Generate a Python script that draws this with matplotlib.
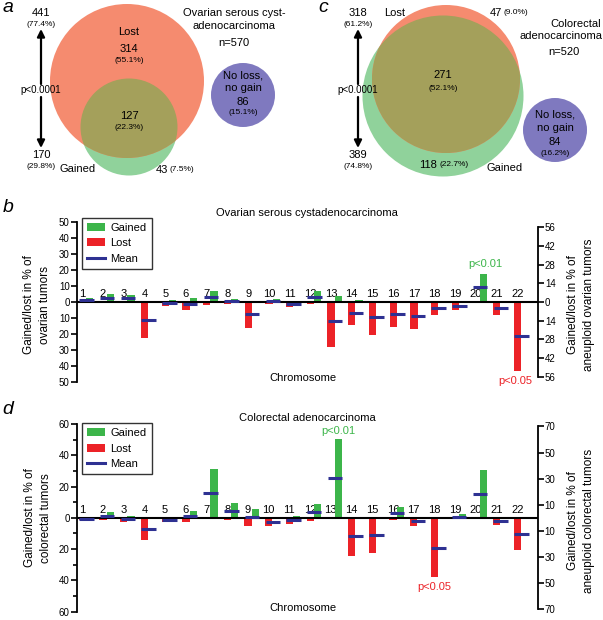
import numpy as np
import matplotlib
matplotlib.use("Agg")
from matplotlib import pyplot as plt
from matplotlib.patches import Circle, Patch
from matplotlib.lines import Line2D

plt.rcParams["font.family"] = ["Liberation Sans", "DejaVu Sans"]

# ---- data ----
chromosomes = np.arange(1, 23)

# ovarian serous cystadenocarcinoma, % of tumors
ov_gained = [2.3, 4.9, 4.2, 0.2, 1.1, 2.5, 7.0, 2.1, 0.3, 2.1, 0.4, 7.0,
             3.8, 1.1, 0.4, 0.6, 0.4, 0.6, 0.2, 17.6, 0.2, 0.4]
ov_lost = [0.3, 0.5, 0.5, 22.7, 2.3, 5.3, 1.7, 1.1, 16.3, 1.5, 3.4, 1.1,
           28.2, 14.2, 20.6, 15.9, 16.9, 8.1, 5.1, 0.2, 8.3, 43.2]
ov_mean = [1.3, 2.5, 2.3, -11.0, -0.6, -1.5, 3.0, 0.8, -7.6, 0.8, -1.5, 3.2,
           -12.1, -6.6, -9.7, -7.4, -8.5, -3.6, -2.5, 9.1, -4.0, -21.2]

# colorectal adenocarcinoma, % of tumors
co_gained = [0.2, 3.8, 1.5, 0.2, 0.2, 4.2, 31.5, 9.5, 5.7, 0.2, 1.5, 8.9,
             50.1, 0.8, 0.2, 7.2, 0.2, 0.2, 2.3, 30.4, 0.2, 0.2]
co_lost = [1.3, 1.5, 2.5, 13.9, 2.7, 2.5, 0.3, 1.1, 5.3, 4.9, 3.8, 1.7,
           0.4, 24.5, 22.2, 1.3, 4.9, 37.6, 0.8, 0.3, 4.6, 20.5]
co_mean = [-0.6, 1.5, -0.6, -7.0, -1.5, 1.3, 15.8, 4.6, 0.6, -2.5, -1.1, 4.0,
           25.4, -11.8, -10.8, 3.4, -2.3, -19.0, 0.8, 15.4, -2.3, -10.1]

# venn counts
ov_n = 570
ov_lost_total, ov_gained_total = 441, 170
ov_lost_only, ov_both, ov_gained_only, ov_none = 314, 127, 43, 86
co_n = 520
co_lost_total, co_gained_total = 318, 389
co_lost_only, co_both, co_gained_only, co_none = 47, 271, 118, 84

# ---- style ----
W, H = 603, 620
GREEN = "#3cb54a"
RED = "#ec2227"
BLUE = "#2e3192"
V_LOST = "#f58b6f"
V_GAIN = "#90d29b"
V_BOTH = "#a4a05b"
V_NONE = "#7f79bf"

fig = plt.figure(figsize=(W / 100, H / 100), dpi=100)


def ftext(x, y, s, **kw):
    kw.setdefault("ha", "center")
    kw.setdefault("va", "center")
    fig.text(x / W, 1 - y / H, s, **kw)


def pct(a, n):
    return f"({100 * a / n:.1f}%)"


# ---- venn panels (pixel coordinates) ----
vax = fig.add_axes([0, 1 - 190 / H, 1, 190 / H])
vax.set_xlim(0, W)
vax.set_ylim(190, 0)
vax.axis("off")


def venn(lost_c, lost_r, gain_c, gain_r, none_c, none_r):
    g = Circle(gain_c, gain_r, fc=V_GAIN, ec="none")
    l = Circle(lost_c, lost_r, fc=V_LOST, ec="none")
    vax.add_patch(g)
    vax.add_patch(l)
    both = Circle(gain_c, gain_r, fc=V_BOTH, ec="none")
    vax.add_patch(both)
    both.set_clip_path(l)
    vax.add_patch(Circle(none_c, none_r, fc=V_NONE, ec="none"))


def p_arrow(x, top_txt, top_pct, bot_txt, bot_pct):
    vax.text(x, 13, top_txt, ha="center", va="center", fontsize=8)
    vax.text(x, 25, top_pct, ha="center", va="center", fontsize=6)
    vax.text(x, 155, bot_txt, ha="center", va="center", fontsize=8)
    vax.text(x, 167, bot_pct, ha="center", va="center", fontsize=6)
    vax.text(x, 90, "p<0.0001", ha="center", va="center", fontsize=7)
    ap = dict(arrowstyle="-|>", lw=1.6, color="black", mutation_scale=11,
              shrinkA=0, shrinkB=0)
    vax.annotate("", xy=(x, 29), xytext=(x, 84), arrowprops=ap)
    vax.annotate("", xy=(x, 148), xytext=(x, 97), arrowprops=ap)


# panel a
venn((127, 81), 77, (129, 127), 48.5, (243, 95), 32)
p_arrow(41, str(ov_lost_total), pct(ov_lost_total, ov_n),
        str(ov_gained_total), pct(ov_gained_total, ov_n))
vax.text(8, 8, "a", ha="center", va="center", fontsize=14, style="italic")
vax.text(129, 32, "Lost", ha="center", va="center", fontsize=8)
vax.text(129, 49, str(ov_lost_only), ha="center", va="center", fontsize=8)
vax.text(129, 61, pct(ov_lost_only, ov_n), ha="center", va="center", fontsize=6)
vax.text(129, 116, str(ov_both), ha="center", va="center", fontsize=8)
vax.text(129, 128, pct(ov_both, ov_n), ha="center", va="center", fontsize=6)
vax.text(78, 169, "Gained", ha="center", va="center", fontsize=8)
vax.text(168, 170, str(ov_gained_only), ha="right", va="center", fontsize=8)
vax.text(170, 170, pct(ov_gained_only, ov_n), ha="left", va="center", fontsize=6)
vax.text(234, 13, "Ovarian serous cyst-", ha="center", va="center", fontsize=8)
vax.text(234, 26, "adenocarcinoma", ha="center", va="center", fontsize=8)
vax.text(234, 43, f"n={ov_n}", ha="center", va="center", fontsize=8)
vax.text(243, 76, "No loss,", ha="center", va="center", fontsize=8)
vax.text(243, 88, "no gain", ha="center", va="center", fontsize=8)
vax.text(243, 102, str(ov_none), ha="center", va="center", fontsize=8)
vax.text(243, 113, pct(ov_none, ov_n), ha="center", va="center", fontsize=6)

# panel c
venn((446, 79), 74, (443, 96), 80.5, (555, 130), 32)
p_arrow(358, str(co_lost_total), pct(co_lost_total, co_n),
        str(co_gained_total), pct(co_gained_total, co_n))
vax.text(323, 8, "c", ha="center", va="center", fontsize=14, style="italic")
vax.text(395, 13, "Lost", ha="center", va="center", fontsize=8)
vax.text(502, 13, str(co_lost_only), ha="right", va="center", fontsize=8)
vax.text(504, 13, pct(co_lost_only, co_n), ha="left", va="center", fontsize=6)
vax.text(443, 75, str(co_both), ha="center", va="center", fontsize=8)
vax.text(443, 88, pct(co_both, co_n), ha="center", va="center", fontsize=6)
vax.text(437, 165, str(co_gained_only), ha="right", va="center", fontsize=8)
vax.text(439, 165, pct(co_gained_only, co_n), ha="left", va="center", fontsize=6)
vax.text(505, 168, "Gained", ha="center", va="center", fontsize=8)
vax.text(576, 24, "Colorectal", ha="center", va="center", fontsize=8)
vax.text(561, 36, "adenocarcinoma", ha="center", va="center", fontsize=8)
vax.text(564, 52, f"n={co_n}", ha="center", va="center", fontsize=8)
vax.text(555, 115, "No loss,", ha="center", va="center", fontsize=8)
vax.text(555, 128, "no gain", ha="center", va="center", fontsize=8)
vax.text(555, 142, str(co_none), ha="center", va="center", fontsize=8)
vax.text(555, 154, pct(co_none, co_n), ha="center", va="center", fontsize=6)


# ---- bar panels ----
def bar_panel(rect, gained, lost, mean, llim, lmajor, lminor, rlim, rticks,
              leg_top):
    ax = fig.add_axes(rect)
    x = chromosomes
    ax.bar(x - 0.175, -np.asarray(lost), width=0.35, color=RED, zorder=2)
    ax.bar(x + 0.175, gained, width=0.35, color=GREEN, zorder=2)
    ax.axhline(0, color="black", lw=1.5, zorder=3)
    ax.hlines(mean, x - 0.33, x + 0.37, color=BLUE, lw=2.2, zorder=4)
    # chromosome numbers sit ~8 px above the zero line
    label_y = 8 / (rect[3] * H) * 2 * llim
    for c in x:
        ax.text(c - 0.18, label_y, str(c), ha="center", va="center",
                fontsize=8, zorder=1)
    ax.set_xlim(0.55, 22.81)
    ax.set_ylim(-llim, llim)
    ax.set_xticks([])
    ax.set_yticks(lmajor)
    ax.set_yticklabels([str(abs(v)) for v in lmajor])
    if lminor is not None:
        ax.set_yticks(lminor, minor=True)
    for s in ["top", "right", "bottom"]:
        ax.spines[s].set_visible(False)
    ax.spines["left"].set_linewidth(1.3)
    ax.tick_params(axis="y", which="both", direction="out", length=4,
                   width=1.2, labelsize=7, pad=1)
    ax.tick_params(axis="y", which="minor", length=3)

    ax2 = ax.twinx()
    ax2.set_ylim(-rlim, rlim)
    ax2.set_yticks(rticks)
    ax2.set_yticklabels([str(abs(v)) for v in rticks])
    for s in ["top", "left", "bottom"]:
        ax2.spines[s].set_visible(False)
    ax2.spines["right"].set_bounds(min(rticks), max(rticks))
    ax2.spines["right"].set_linewidth(1.3)
    ax2.tick_params(axis="y", direction="out", length=4, width=1.2,
                    labelsize=7, pad=1)

    handles = [Patch(fc=GREEN, ec="none", label="Gained"),
               Patch(fc=RED, ec="none", label="Lost"),
               Line2D([], [], color=BLUE, lw=2.2, label="Mean")]
    leg = ax.legend(handles=handles, loc="upper left",
                    bbox_to_anchor=(0.012, leg_top), fontsize=8,
                    frameon=True, fancybox=False, handlelength=1.6,
                    handleheight=0.7, handletextpad=0.5, labelspacing=0.5,
                    borderpad=0.45, borderaxespad=0)
    leg.get_frame().set_edgecolor("black")
    leg.get_frame().set_linewidth(1.0)
    leg.set_zorder(5)
    return ax


def rect_px(x0, y0, x1, y1):
    return [x0 / W, 1 - y1 / H, (x1 - x0) / W, (y1 - y0) / H]


ax_b = bar_panel(rect_px(76.7, 222.3, 538, 381.7), ov_gained, ov_lost, ov_mean,
                 50, list(range(-50, 51, 10)), None, 59.7,
                 list(range(-56, 57, 14)), 1.029)
ax_b.text(20.25, 24, "p<0.01", color=GREEN, ha="center", va="center",
          fontsize=8)
ax_b.text(21.7, -49.5, "p<0.05", color=RED, ha="center", va="center",
          fontsize=8)

ax_d = bar_panel(rect_px(76.7, 424, 537.7, 611.7), co_gained, co_lost, co_mean,
                 60, list(range(-60, 61, 20)), list(range(-60, 61, 10)), 71.9,
                 [-70, -50, -30, -10, 10, 30, 50, 70], 1.005)
ax_d.text(13.16, 55.5, "p<0.01", color=GREEN, ha="center", va="center",
          fontsize=8)
ax_d.text(17.84, -44, "p<0.05", color=RED, ha="center", va="center",
          fontsize=8)

ftext(8, 208, "b", fontsize=14, style="italic")
ftext(8, 409, "d", fontsize=14, style="italic")
ftext(307, 213, "Ovarian serous cystadenocarcinoma", fontsize=8)
ftext(307, 418, "Colorectal adenocarcinoma", fontsize=8)
ftext(303, 378, "Chromosome", fontsize=8)
ftext(303, 608, "Chromosome", fontsize=8)
ftext(37, 305, "Gained/lost in % of\novarian tumors", fontsize=8.5,
      rotation=90, linespacing=1.45)
ftext(581, 305, "Gained/lost in % of\naneuploid ovarian tumors", fontsize=8.5,
      rotation=90, linespacing=1.45)
ftext(38, 518, "Gained/lost in % of\ncolorectal tumors", fontsize=8.5,
      rotation=90, linespacing=1.45)
ftext(581, 521, "Gained/lost in % of\naneuploid colorectal tumors",
      fontsize=8.5, rotation=90, linespacing=1.45)

fig.savefig("out.png", dpi=100)
